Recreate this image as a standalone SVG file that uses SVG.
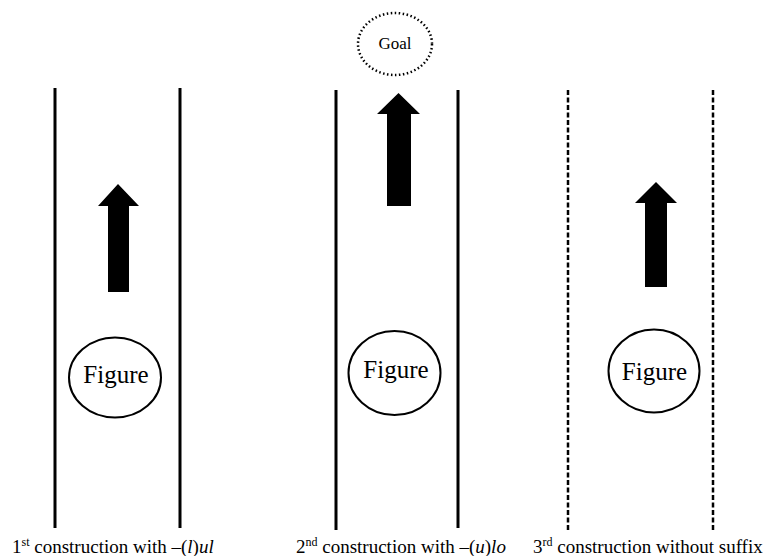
<svg xmlns="http://www.w3.org/2000/svg" width="770" height="556" viewBox="0 0 770 556">
<style>
.wall{stroke:#000;stroke-width:3;fill:none}
.dash{stroke:#000;stroke-width:2.5;fill:none;stroke-dasharray:5 2.5}
.arrow{fill:#000}
.fig{fill:#fff;stroke:#000;stroke-width:2}
.t{font-family:"Liberation Serif","Times New Roman",serif;fill:#000}
.lbl{font-size:19px}
.sup{font-size:12px}
</style>
<rect width="770" height="556" fill="#fff"/>
<g id="walls">
<line class="wall" x1="55" y1="88" x2="55" y2="528"/>
<line class="wall" x1="180" y1="88" x2="180" y2="528"/>
<line class="wall" x1="336" y1="90" x2="336" y2="530"/>
<line class="wall" x1="458" y1="90" x2="458" y2="528"/>
<line class="dash" x1="568" y1="90" x2="568" y2="532"/>
<line class="dash" x1="713" y1="90" x2="713" y2="532"/>
</g>
<g id="connectors">
<polygon class="arrow" points="118,184 139,206 129,206 129,292 108,292 108,206 98,206"/>
<polygon class="arrow" points="398.5,93 420,114 411,114 411,206 387,206 387,114 377,114"/>
<polygon class="arrow" points="656,182 677,203 667,203 667,287 645,287 645,203 635,203"/>
</g>
<g id="goal">
<ellipse cx="395" cy="44" rx="37" ry="31" fill="#fff" stroke="#000" stroke-width="2.5" stroke-dasharray="1.5 2.5"/>
<text class="t" x="395" y="49" font-size="17" text-anchor="middle">Goal</text>
</g>
<g id="figure1">
<ellipse class="fig" cx="115" cy="377.5" rx="46" ry="40"/>
<text class="t" x="116" y="383" font-size="25" text-anchor="middle">Figure</text>
</g>
<g id="figure2">
<ellipse class="fig" cx="394.5" cy="373" rx="46" ry="42"/>
<text class="t" x="396" y="378" font-size="25" text-anchor="middle">Figure</text>
</g>
<g id="figure3">
<ellipse class="fig" cx="654" cy="371" rx="45.5" ry="41.5"/>
<text class="t" x="654.5" y="380" font-size="25" text-anchor="middle">Figure</text>
</g>
<g id="labels">
<text class="t lbl" x="12" y="553">1<tspan class="sup" dy="-7">st</tspan><tspan dy="7"> construction with –(</tspan><tspan font-style="italic">l</tspan>)<tspan font-style="italic">ul</tspan></text>
<text class="t lbl" x="296" y="553">2<tspan class="sup" dy="-7">nd</tspan><tspan dy="7"> construction with –(</tspan><tspan font-style="italic">u</tspan>)<tspan font-style="italic">lo</tspan></text>
<text class="t lbl" x="533" y="553">3<tspan class="sup" dy="-7">rd</tspan><tspan dy="7"> construction without suffix</tspan></text>
</g>
</svg>
